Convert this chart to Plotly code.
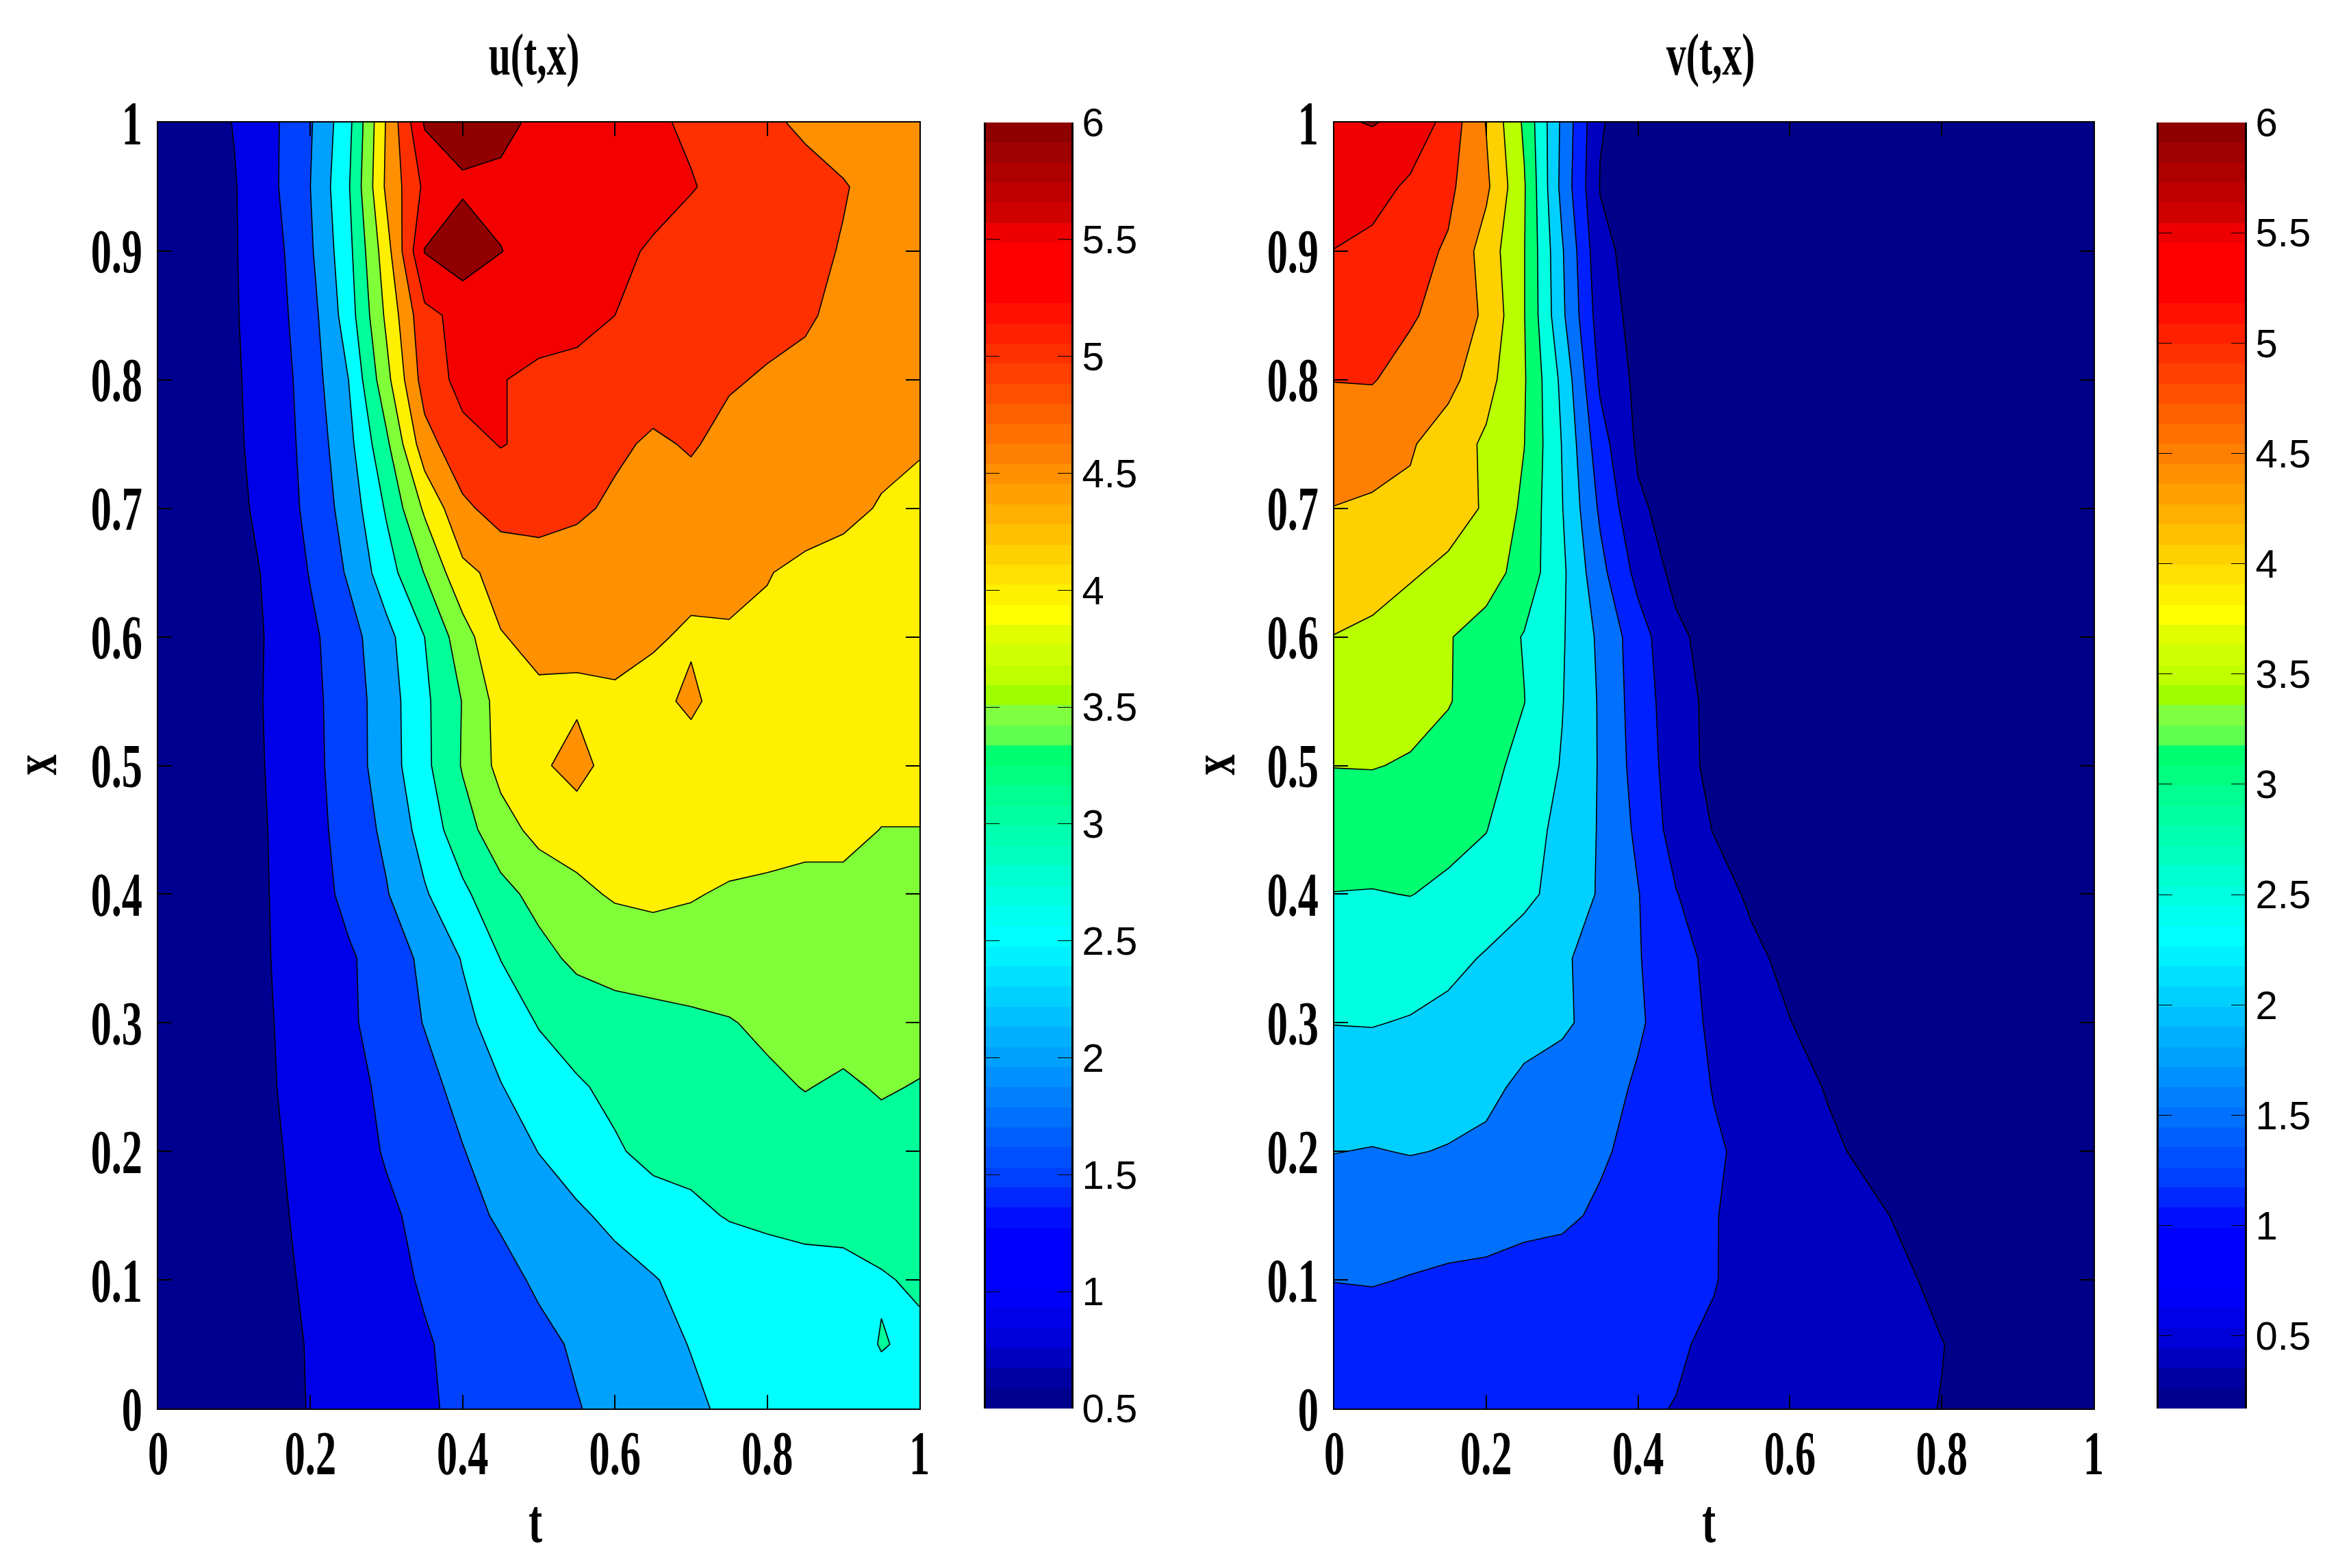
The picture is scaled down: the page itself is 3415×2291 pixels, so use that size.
import plotly.graph_objects as go

t_vals = [0, .05, .1, .15, .2, .25, .3, .35, .4, .45, .5, .55, .6, .65, .7, .75, .8, .85, .9, .95, 1]
x_vals = [1, .95, .9, .85, .8, .75, .7, .65, .6, .55, .5, .45, .4, .35, .3, .25, .2, .15, .1, .05, 0]

u_grid = [
 [.5,.75,1.02,1.4,1.95,2.85,4.55,6.05,6.2,6.12,5.9,5.75,5.65,5.55,5.45,5.3,5.1,4.9,4.8,4.7,4.6],
 [.5,.75,.97,1.4,2.0,2.95,4.6,5.6,5.93,5.9,5.85,5.8,5.75,5.65,5.52,5.4,5.3,5.2,5.03,4.85,4.7],
 [.5,.72,.97,1.3,1.93,2.85,4.3,6.02,6.3,6.01,5.85,5.75,5.6,5.45,5.35,5.3,5.2,5.12,4.97,4.85,4.75],
 [.5,.72,.96,1.28,1.8,2.75,4.1,5.37,5.65,5.7,5.7,5.65,5.5,5.35,5.3,5.25,5.15,5.05,4.9,4.75,4.65],
 [.5,.7,.95,1.2,1.75,2.5,3.85,5.23,5.65,5.52,5.4,5.35,5.3,5.25,5.2,5.05,4.95,4.9,4.8,4.7,4.6],
 [.5,.68,.93,1.2,1.68,2.35,3.4,4.8,5.35,5.52,5.4,5.3,5.1,4.92,5.05,4.85,4.75,4.7,4.65,4.6,4.55],
 [.5,.67,.92,1.12,1.65,2.2,3.06,4.08,4.9,5.2,5.25,5.1,4.9,4.85,4.8,4.75,4.72,4.7,4.6,4.47,4.35],
 [.5,.65,.85,1.07,1.53,2.06,2.78,3.52,4.38,4.65,4.7,4.7,4.7,4.65,4.6,4.58,4.52,4.4,4.35,4.3,4.3],
 [.5,.63,.82,1.05,1.4,1.8,2.35,3.0,3.78,4.48,4.6,4.6,4.6,4.54,4.45,4.47,4.42,4.4,4.35,4.3,4.3],
 [.5,.62,.85,1.05,1.37,1.75,2.26,2.9,3.52,4.2,4.43,4.42,4.45,4.38,4.58,4.3,4.25,4.25,4.2,4.2,4.2],
 [.5,.6,.8,1.05,1.35,1.75,2.25,2.88,3.54,4.15,4.4,4.7,4.25,4.3,4.3,4.3,4.25,4.2,4.2,4.2,4.2],
 [.5,.58,.78,1.03,1.3,1.72,2.1,2.7,3.3,3.8,4.15,4.2,4.2,4.25,4.25,4.2,4.2,4.15,4.15,3.99,3.99],
 [.5,.58,.77,1.02,1.25,1.64,1.97,2.45,2.9,3.35,3.65,3.9,4.05,4.1,4.03,3.95,3.9,3.85,3.85,3.85,3.8],
 [.5,.58,.75,1.01,1.13,1.43,1.75,2.1,2.53,3.01,3.35,3.6,3.7,3.75,3.8,3.8,3.78,3.75,3.75,3.75,3.75],
 [.5,.57,.75,.99,1.2,1.42,1.72,2.02,2.37,2.72,3.03,3.2,3.3,3.35,3.4,3.47,3.6,3.7,3.7,3.7,3.7],
 [.5,.56,.72,.97,1.22,1.35,1.6,1.85,2.15,2.48,2.75,2.95,3.1,3.2,3.25,3.3,3.4,3.52,3.42,3.55,3.47],
 [.5,.56,.72,.96,1.1,1.25,1.55,1.72,1.98,2.25,2.51,2.75,2.95,3.12,3.15,3.2,3.22,3.25,3.25,3.3,3.25],
 [.5,.55,.7,.92,1.1,1.28,1.4,1.65,1.88,2.05,2.25,2.42,2.62,2.8,2.9,3.03,3.1,3.12,3.1,3.15,3.2],
 [.5,.54,.68,.88,1.07,1.2,1.33,1.56,1.75,1.88,2.06,2.2,2.32,2.47,2.65,2.7,2.75,2.85,2.9,2.97,3.05],
 [.5,.54,.66,.85,1.03,1.15,1.3,1.45,1.65,1.8,1.9,2.05,2.2,2.33,2.52,2.6,2.68,2.75,2.82,3.02,2.93],
 [.5,.53,.64,.85,1.02,1.15,1.3,1.42,1.62,1.75,1.88,1.98,2.12,2.25,2.4,2.6,2.65,2.72,2.78,2.85,2.95],
]

v_grid = [
 [5.95,6.02,5.9,5.3,4.48,3.42,1.9,.53,.3,.27,.25,.24,.23,.22,.22,.21,.21,.2,.2,.2,.2],
 [5.75,5.72,5.4,5.1,4.6,3.55,1.85,.48,.3,.27,.25,.24,.23,.22,.22,.21,.21,.2,.2,.2,.2],
 [5.49,5.35,5.15,4.95,4.28,3.52,2.05,.63,.31,.27,.25,.24,.23,.22,.22,.21,.21,.2,.2,.2,.2],
 [5.25,5.2,5.06,4.8,4.42,3.52,2.1,.75,.33,.28,.25,.24,.23,.22,.22,.21,.21,.2,.2,.2,.2],
 [5.01,5.03,4.8,4.65,4.18,3.55,2.38,.92,.38,.28,.26,.24,.23,.22,.22,.21,.21,.2,.2,.2,.2],
 [4.75,4.65,4.55,4.25,3.92,3.51,2.48,1.2,.42,.3,.26,.24,.23,.22,.22,.21,.21,.2,.2,.2,.2],
 [4.49,4.45,4.4,4.2,3.95,3.4,2.52,1.42,.58,.3,.26,.24,.23,.22,.22,.21,.21,.2,.2,.2,.2],
 [4.25,4.2,4.05,3.9,3.72,3.3,2.6,1.65,.85,.37,.28,.25,.23,.22,.22,.21,.21,.2,.2,.2,.2],
 [3.99,3.9,3.75,3.53,3.3,2.97,2.55,1.9,1.22,.6,.32,.26,.24,.22,.22,.21,.21,.2,.2,.2,.2],
 [3.75,3.72,3.65,3.53,3.25,3.01,2.52,1.95,1.25,.72,.35,.28,.24,.23,.22,.21,.21,.2,.2,.2,.2],
 [3.51,3.52,3.46,3.3,3.17,2.83,2.47,1.96,1.3,.75,.35,.28,.25,.23,.22,.21,.21,.2,.2,.2,.2],
 [3.25,3.22,3.18,3.12,3.01,2.72,2.36,1.96,1.4,.8,.48,.3,.25,.23,.22,.21,.21,.2,.2,.2,.2],
 [2.99,2.98,3.01,2.92,2.82,2.62,2.32,1.95,1.52,1.02,.7,.42,.3,.25,.23,.21,.21,.2,.2,.2,.2],
 [2.75,2.75,2.72,2.65,2.45,2.22,2.08,1.78,1.53,1.2,.85,.6,.38,.3,.25,.22,.21,.2,.2,.2,.2],
 [2.51,2.52,2.47,2.35,2.25,2.12,2.07,1.85,1.55,1.3,.88,.7,.51,.33,.27,.23,.21,.2,.2,.2,.2],
 [2.25,2.25,2.2,2.15,2.08,1.93,1.8,1.65,1.45,1.22,.98,.82,.66,.47,.33,.25,.22,.2,.2,.2,.2],
 [2.01,1.98,2.02,1.98,1.93,1.82,1.72,1.57,1.35,1.22,1.05,.9,.75,.58,.42,.3,.23,.2,.2,.2,.2],
 [1.75,1.75,1.72,1.7,1.68,1.62,1.6,1.42,1.25,1.12,1.01,.93,.83,.72,.6,.44,.33,.25,.21,.2,.2],
 [1.51,1.53,1.48,1.43,1.4,1.33,1.25,1.2,1.12,1.05,1.01,.92,.82,.72,.63,.56,.4,.3,.23,.2,.2],
 [1.25,1.25,1.23,1.2,1.18,1.13,1.1,1.07,1.05,1.02,.97,.9,.83,.75,.67,.6,.51,.38,.3,.22,.2],
 [1.05,1.08,1.08,1.08,1.07,1.06,1.05,1.04,1.02,.995,.93,.87,.8,.72,.65,.57,.49,.35,.3,.22,.2],
]

u_band_colors = ["#000090", "#0000E8", "#0040FF", "#00A0FF", "#00FFFF", "#00FF98",
                 "#80FF38", "#FFF000", "#FF9000", "#FF3000", "#F40000", "#900000"]
v_band_colors = ["#000088", "#0000C0", "#0020FF", "#0070FF", "#00D0FF", "#00FFE0", "#00FF70",
                 "#B8FF00", "#FFD000", "#FF8000", "#FF2000", "#F00000", "#900000"]

# colour-bar steps, bottom to top
bar_colors = ["#00008F","#0000A0","#0000C0","#0000D8","#0000E8","#0000F8","#0000FF","#0000FF","#0000FF",
 "#0010FF","#0028FF","#0040FF","#0050FF","#0060FF","#0070FF","#0080FF","#0090FF","#00A0FF","#00B0FF",
 "#00C0FF","#00D0FF","#00E0FF","#00F0FF","#00FFFF","#00FFF0","#00FFE0","#00FFD0","#00FFC0","#00FFB0",
 "#00FFA0","#00FF90","#00FF80","#00FF70","#60FF50","#80FF40","#9FFF00","#BFFF00","#CFFF00","#DFFF00",
 "#FFFF00","#FFF000","#FFE000","#FFD000","#FFC000","#FFB000","#FFA000","#FF9000","#FF8000","#FF7000",
 "#FF6000","#FF5000","#FF4000","#FF3000","#FF2000","#FF1000","#FF0000","#FF0000","#FF0000","#EF0000",
 "#CF0000","#BF0000","#AF0000","#9F0000","#8F0000"]
u_bar_range = [0.5, 6]
v_bar_range = [0.17, 6]
bar_ticks = [.5, 1, 1.5, 2, 2.5, 3, 3.5, 4, 4.5, 5, 5.5, 6]
bar_ticktext = ["0.5", "1", "1.5", "2", "2.5", "3", "3.5", "4", "4.5", "5", "5.5", "6"]

W, H = 3415, 2291
TOP, BOTTOM = 179, 2058
SERIF = dict(family="Liberation Serif", size=90, color="black", weight="bold")
SANS = dict(family="Liberation Sans", size=58, color="black")


def stepped(colors):
    n = len(colors) - 1
    return [[i / n, c] for i, c in enumerate(colors)]


def bar_scale(colors):
    n = len(colors)
    out = []
    for i, c in enumerate(colors):
        out += [[i / n, c], [(i + 1) / n, c]]
    return out


fig = go.Figure()


def panel(suffix, grid, colors, start, px0, px1):
    y_asc = x_vals[::-1]
    fig.add_trace(go.Contour(
        x=t_vals, y=y_asc, z=grid[::-1], xaxis="x" + suffix, yaxis="y" + suffix,
        autocontour=False,
        contours=dict(start=start, end=6, size=.5, coloring="fill", showlines=True),
        colorscale=stepped(colors), showscale=False, hoverinfo="skip",
        line=dict(color="black", width=1.6, smoothing=0),
    ))
    return [px0 / W, px1 / W]


def axes(suffix, xdom):
    ydom = [1 - BOTTOM / H, 1 - TOP / H]
    fig.layout["xaxis" + suffix] = dict(
        domain=xdom, range=[0, 1], dtick=.2, tick0=0, ticks="inside", ticklen=20, tickwidth=1.5,
        tickcolor="black", showgrid=False, zeroline=False, showline=True, linecolor="black",
        linewidth=2, mirror="ticks", tickfont=SERIF, anchor="y" + suffix, automargin=False,
        ticklabelstandoff=-14,
    )
    fig.layout["yaxis" + suffix] = dict(
        domain=ydom, range=[0, 1], dtick=.1, tick0=0, ticks="inside", ticklen=20, tickwidth=1.5,
        tickcolor="black", showgrid=False, zeroline=False, showline=True, linecolor="black",
        linewidth=2, mirror="ticks", tickfont=SERIF, anchor="x" + suffix, ticklabelstandoff=3,
        automargin=False,
    )


def bar(sx, sy, rng, px0, px1):
    n = len(bar_colors)
    step = (6 - rng[0]) / n
    levels = [rng[0] + (i + .5) * step for i in range(n)]
    fig.add_trace(go.Heatmap(
        x=[0, 1], y=levels, z=[[lv, lv] for lv in levels], xaxis="x" + sx, yaxis="y" + sy,
        colorscale=bar_scale(bar_colors), zmin=rng[0], zmax=6, showscale=False, hoverinfo="skip",
    ))
    fig.layout["xaxis" + sx] = dict(domain=[px0 / W, px1 / W], range=[-.5, 1.5], visible=False,
                                    anchor="y" + sy)
    fig.layout["yaxis" + sy] = dict(
        domain=[1 - BOTTOM / H, 1 - TOP / H], range=[rng[0], 6], side="right", anchor="x" + sx,
        tickvals=bar_ticks, ticktext=bar_ticktext, ticks="inside", ticklen=20, tickwidth=1.2,
        tickcolor="black", showgrid=False, zeroline=False, showline=True, linecolor="black",
        linewidth=3, mirror="ticks", tickfont=SANS, ticklabelstandoff=1, automargin=False,
    )


u_dom = panel("", u_grid, u_band_colors, 1, 231, 1343)
axes("", u_dom)
v_dom = panel("2", v_grid, v_band_colors, .5, 1949, 3058)
axes("2", v_dom)
bar("3", "3", u_bar_range, 1440, 1565)
bar("4", "4", v_bar_range, 3153, 3279)


def text_note(text, px, py, size=90, angle=0):
    return dict(text=text, x=px / W, y=1 - py / H, xref="paper", yref="paper", showarrow=False,
                textangle=angle, xanchor="center", yanchor="middle",
                font=dict(family="Liberation Serif", size=size, color="black", weight="bold"))


fig.update_layout(
    width=W, height=H, margin=dict(l=0, r=0, t=0, b=0, pad=0), paper_bgcolor="white",
    plot_bgcolor="white", showlegend=False,
    annotations=[
        text_note("u(t,x)", 780, 80, 86),
        text_note("v(t,x)", 2498, 80, 86),
        text_note("t", 782, 2222),
        text_note("t", 2496, 2222),
        text_note("x", 52, 1118, 90, -90),
        text_note("x", 1773, 1118, 90, -90),
    ],
)

squeeze = """
document.body.style.margin = '0';
document.querySelectorAll('.xtick text, .ytick text, .x2tick text, .y2tick text, .annotation-text').forEach(function (t) {
  var w = t.getComputedTextLength();
  t.setAttribute('textLength', w * 0.67);
  t.setAttribute('lengthAdjust', 'spacingAndGlyphs');
});
"""
fig.write_html("out.html", post_script=squeeze, config=dict(displayModeBar=False))
